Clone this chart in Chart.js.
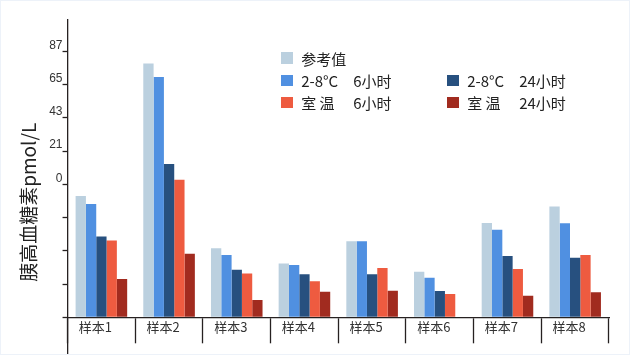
<!DOCTYPE html>
<html>
<head>
<meta charset="utf-8">
<script src="https://cdn.jsdelivr.net/npm/chart.js@4/dist/chart.umd.min.js"></script>
<style>
  html, body { margin: 0; padding: 0; background: #fff; }
  #wrap { position: relative; width: 630px; height: 355px; overflow: hidden; }
  #c { display: block; }
  #frame { position: absolute; left: 0; top: 0; right: 0; bottom: 0; border: 1px solid #edf2f9; pointer-events: none; }
  #legend { position: absolute; left: 281px; top: 47px; display: grid; grid-template-columns: 166px auto; grid-auto-rows: 22.3px;
            font-family: "Noto Sans CJK SC", "Noto Sans", sans-serif; font-size: 15px; color: #222; }
  .li { display: flex; align-items: center; white-space: pre; }
  .sw { width: 11.5px; height: 11.5px; margin-right: 8.7px; flex: none; }
  .cond { display: inline-block; width: 52px; }
</style>
</head>
<body>
<div id="wrap">
  <canvas id="c" width="630" height="355"></canvas>
  <div id="legend"></div>
  <div id="frame"></div>
</div>
<script>
// ---- data (values in axis tick units, baseline = 0) ----
const categories = ['样本1', '样本2', '样本3', '样本4', '样本5', '样本6', '样本7', '样本8'];
const yTickLabels = ['', '', '', '', '0', '21', '43', '65', '87'];
const seriesNames = ['参考值', '2-8°C 6小时', '2-8°C 24小时', '室 温 6小时', '室 温 24小时'];
const refValues   = [3.65, 7.64, 2.08, 1.62, 2.29, 1.37, 2.84, 3.33];
const cold6h      = [3.41, 7.23, 1.87, 1.57, 2.29, 1.19, 2.63, 2.83];
const cold24h     = [2.43, 4.61, 1.43, 1.29, 1.29, 0.79, 1.84, 1.79];
const room6h      = [2.31, 4.14, 1.32, 1.08, 1.48, 0.70, 1.45, 1.87];
const room24h     = [1.15, 1.91, 0.52, 0.77, 0.80, 0, 0.65, 0.75];

const colors = ['#BBD0DF', '#5090E1', '#27507F', '#EE5B40', '#A12B1F'];
const seriesData = [refValues, cold6h, cold24h, room6h, room24h];
const axisColor = '#262121';

const datasets = seriesData.map((d, i) => ({
  label: seriesNames[i],
  data: d,
  backgroundColor: colors[i],
  borderWidth: 0,
  xAxisID: 'x',
  yAxisID: 'y',
  categoryPercentage: 0.762,
  barPercentage: 1.0
}));

const chart = new Chart(document.getElementById('c'), {
  type: 'bar',
  data: { labels: categories, datasets },
  options: {
    responsive: false,
    animation: false,
    events: [],
    layout: { padding: { left: 14.5, right: 21, top: 20, bottom: 0 } },
    plugins: { legend: { display: false }, tooltip: { enabled: false } },
    scales: {
      x: {
        type: 'category',
        position: { y: 0 },
        offset: true,
        grid: { offset: true, drawOnChartArea: false, drawTicks: true, tickLength: 25, tickColor: axisColor, tickWidth: 1.3 },
        border: { display: true, color: axisColor, width: 1.3 },
        ticks: {
          color: '#333',
          font: { family: '"Noto Sans CJK SC", sans-serif', size: 13 },
          padding: -23,
          labelOffset: -6,
          maxRotation: 0,
          autoSkip: false
        }
      },
      xEdge: {
        type: 'category',
        axis: 'x',
        labels: categories,
        position: { y: 0 },
        offset: true,
        grid: {
          offset: true, drawOnChartArea: false, drawTicks: true, tickLength: 40, tickWidth: 1.3,
          tickColor: (ctx) => (ctx.index === categories.length ? axisColor : 'rgba(0,0,0,0)')
        },
        border: { display: false },
        ticks: { display: false }
      },
      y: {
        type: 'linear',
        position: 'left',
        min: -1.128,
        max: 8.947,
        afterBuildTicks: (scale) => {
          scale.ticks = yTickLabels.map((_, i) => ({ value: i }));
        },
        grid: { drawOnChartArea: false, drawTicks: true, tickLength: 5, tickColor: axisColor, tickWidth: 1.3 },
        border: { display: true, color: axisColor, width: 1.3 },
        ticks: {
          color: '#333',
          font: { family: '"Liberation Sans", Arial, sans-serif', size: 12, lineHeight: 0.05 },
          padding: 0,
          labelOffset: -6,
          callback: (v) => yTickLabels[v] ?? ''
        },
        title: {
          display: true,
          text: '胰高血糖素pmol/L       ',
          color: '#222',
          font: { family: '"Noto Sans CJK SC", sans-serif', size: 19, lineHeight: 1 },
          padding: { top: 5, bottom: 10.7 }
        }
      }
    }
  }
});

// HTML legend built from the chart's datasets (first row holds only the reference series)
const legendEl = document.getElementById('legend');
[0, null, 1, 2, 3, 4].forEach((idx) => {
  const cell = document.createElement('div');
  cell.className = 'li';
  if (idx !== null) {
    const ds = chart.data.datasets[idx];
    const sw = document.createElement('span');
    sw.className = 'sw';
    sw.style.background = ds.backgroundColor;
    cell.appendChild(sw);
    const parts = ds.label.match(/^(.*?)\s*(\d+小时)$/);
    if (parts) {
      const c = document.createElement('span');
      c.className = 'cond';
      c.textContent = parts[1];
      cell.appendChild(c);
      const t = document.createElement('span');
      t.textContent = parts[2];
      cell.appendChild(t);
    } else {
      const t = document.createElement('span');
      t.textContent = ds.label;
      cell.appendChild(t);
    }
  }
  legendEl.appendChild(cell);
});
</script>
</body>
</html>
